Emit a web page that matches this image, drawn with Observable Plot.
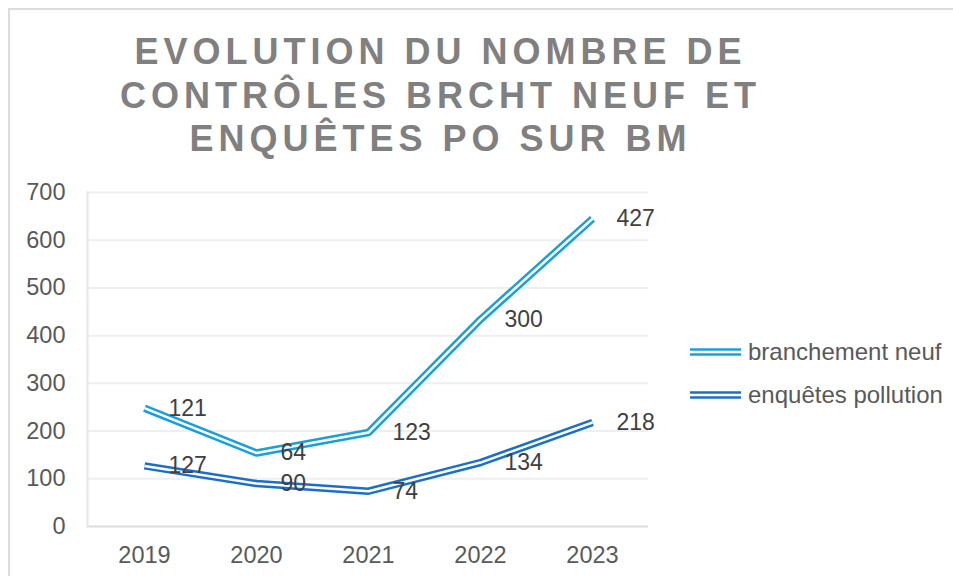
<!DOCTYPE html>
<html>
<head>
<meta charset="utf-8">
<script src="https://cdn.jsdelivr.net/npm/d3@7"></script>
<script src="https://cdn.jsdelivr.net/npm/@observablehq/plot@0.6"></script>
<style>
  html, body { margin: 0; padding: 0; background: #fff; }
  body { font-family: "Liberation Sans", Arial, sans-serif; }
  #wrap { position: relative; width: 953px; height: 576px; overflow: hidden; background: #fff; }
  #border { position: absolute; left: 8px; top: 8px; width: 2000px; height: 2000px;
            border-left: 2px solid #dcdcdc; border-top: 2px solid #dcdcdc; }
  #chart { position: absolute; left: 0; top: 0; }
  #title { position: absolute; left: 0; width: 881px; top: 30px; text-align: center; white-space: nowrap;
           color: #808080; font-weight: bold; font-size: 36px; letter-spacing: 5px; line-height: 43.5px; }
  .leg { position: absolute; left: 690px; display: flex; align-items: center; font-size: 24px; color: #595959; white-space: nowrap; }
  .leg svg { margin-right: 7px; }
</style>
</head>
<body>
<div id="wrap">
  <div id="border"></div>
  <div id="chart"></div>
  <div id="title">EVOLUTION DU NOMBRE DE<br>CONTRÔLES BRCHT NEUF ET<br>ENQUÊTES PO SUR BM</div>
  <div id="legend"></div>
</div>
<script>
const years = ["2019", "2020", "2021", "2022", "2023"];
const seriesNames = ["enquêtes pollution", "branchement neuf"];
const enquetesPollution = [127, 90, 74, 134, 218];
const branchementNeuf = [121, 64, 123, 300, 427];
const colors = {"branchement neuf": "#1aa0d9", "enquêtes pollution": "#1b6fca"};
const yTicks = [0, 100, 200, 300, 400, 500, 600, 700];

const valuesBySeries = {"enquêtes pollution": enquetesPollution, "branchement neuf": branchementNeuf};
const data = [];
for (const s of seriesNames) {
  years.forEach((y, i) => data.push({year: y, series: s, value: valuesBySeries[s][i]}));
}

const stackOpts = {x: "year", y: "value", z: "series"};

const plot = Plot.plot({
  width: 953,
  height: 576,
  marginTop: 192,
  marginBottom: 50,
  marginLeft: 87,
  marginRight: 305,
  style: {fontFamily: "'Liberation Sans', Arial, sans-serif", background: "transparent"},
  x: {type: "point", domain: years, padding: 0.5, label: null},
  y: {domain: [0, 700], label: null},
  marks: [
    Plot.ruleY(yTicks.slice(1), {stroke: "#efefef", strokeWidth: 2}),
    Plot.ruleY([0], {stroke: "#dcdcdc", strokeWidth: 2}),
    Plot.frame({anchor: "left", stroke: "#e6e6e6", strokeWidth: 2}),
    Plot.axisY({ticks: yTicks, tickSize: 0, tickPadding: 22, fontSize: 23.5, fill: "#595959", label: null}),
    Plot.axisX({tickSize: 0, tickPadding: 20, fontSize: 23.5, fill: "#595959", label: null}),
    Plot.line(data, Plot.stackY2({...stackOpts, stroke: d => colors[d.series], strokeWidth: 7.5, strokeLinecap: "butt", strokeLinejoin: "miter"})),
    Plot.line(data, Plot.stackY2({...stackOpts, stroke: "white", strokeWidth: 2.5, strokeLinecap: "butt", strokeLinejoin: "miter"})),
    Plot.text(data, Plot.stackY2({...stackOpts, text: d => String(d.value), textAnchor: "start", dx: 24, fontSize: 23, fill: "#404040"}))
  ]
});
document.getElementById("chart").appendChild(plot);

const legendTops = {"branchement neuf": 352, "enquêtes pollution": 395};
const legend = document.getElementById("legend");
for (const s of ["branchement neuf", "enquêtes pollution"]) {
  const item = document.createElement("div");
  item.className = "leg";
  item.style.top = (legendTops[s] - 14) + "px";
  item.style.height = "28px";
  item.innerHTML = `<svg width="51" height="10"><line x1="0" x2="51" y1="5" y2="5" stroke="${colors[s]}" stroke-width="7.5"/><line x1="0" x2="51" y1="5" y2="5" stroke="white" stroke-width="2.5"/></svg><span>${s}</span>`;
  legend.appendChild(item);
}
</script>
</body>
</html>
